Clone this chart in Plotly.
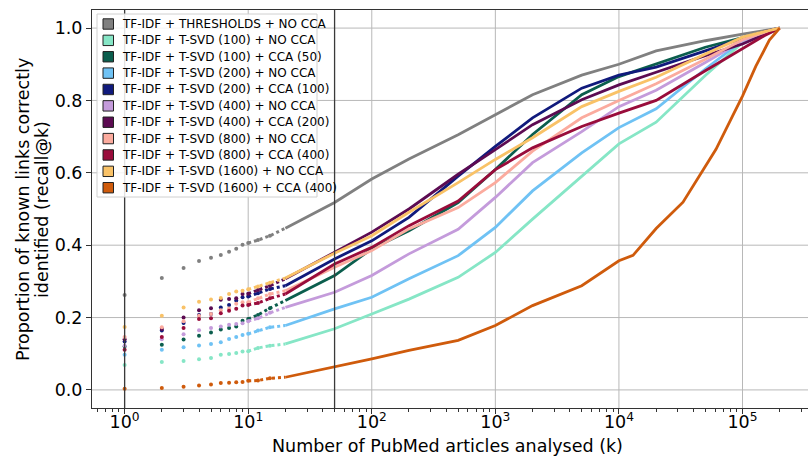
import plotly.graph_objects as go

# Number of PubMed articles analysed (k)
K = [1, 2, 3, 4, 5, 6, 7, 8, 9, 10, 12, 15, 20, 50, 100, 200, 500, 1000, 2000, 5000,
     10000, 20000, 50000, 100000, 150000, 200000]

NAMES = [
    "TF-IDF + THRESHOLDS + NO CCA",
    "TF-IDF + T-SVD (100) + NO CCA",
    "TF-IDF + T-SVD (100) + CCA (50)",
    "TF-IDF + T-SVD (200) + NO CCA",
    "TF-IDF + T-SVD (200) + CCA (100)",
    "TF-IDF + T-SVD (400) + NO CCA",
    "TF-IDF + T-SVD (400) + CCA (200)",
    "TF-IDF + T-SVD (800) + NO CCA",
    "TF-IDF + T-SVD (800) + CCA (400)",
    "TF-IDF + T-SVD (1600) + NO CCA",
    "TF-IDF + T-SVD (1600) + CCA (400)",
]

COLORS = ["#808080", "#86e6c6", "#0b5e4d", "#6fc2f4", "#101a7c", "#c49bdb",
          "#5c0b52", "#fbab9e", "#990c3b", "#f9c267", "#cf5b0c"]

thresholds = [0.262, 0.309, 0.337, 0.356, 0.365, 0.373, 0.382, 0.390, 0.401, 0.406, 0.414,
              0.426, 0.447, 0.518, 0.583, 0.638, 0.705, 0.760, 0.816, 0.870, 0.900, 0.937,
              0.965, 0.983, 0.992, 1.0]
svd100 = [0.069, 0.077, 0.080, 0.085, 0.088, 0.097, 0.099, 0.102, 0.106, 0.107, 0.116,
          0.122, 0.127, 0.169, 0.210, 0.251, 0.311, 0.380, 0.472, 0.591, 0.680, 0.740,
          0.869, 0.960, 0.985, 1.0]
svd100_cca50 = [0.120, 0.125, 0.139, 0.150, 0.159, 0.167, 0.171, 0.175, 0.191, 0.196, 0.207,
                0.226, 0.247, 0.316, 0.390, 0.440, 0.518, 0.609, 0.706, 0.816, 0.866, 0.901,
                0.947, 0.974, 0.990, 1.0]
svd200 = [0.097, 0.111, 0.118, 0.123, 0.127, 0.132, 0.141, 0.146, 0.152, 0.155, 0.164,
          0.173, 0.178, 0.224, 0.256, 0.307, 0.371, 0.449, 0.550, 0.655, 0.725, 0.777,
          0.887, 0.965, 0.987, 1.0]
svd200_cca100 = [0.134, 0.164, 0.185, 0.207, 0.210, 0.228, 0.235, 0.247, 0.256, 0.258, 0.267,
                 0.279, 0.288, 0.362, 0.412, 0.477, 0.591, 0.673, 0.752, 0.834, 0.870, 0.892,
                 0.937, 0.972, 0.990, 1.0]
svd400 = [0.122, 0.140, 0.154, 0.165, 0.171, 0.175, 0.180, 0.182, 0.184, 0.190, 0.198,
          0.213, 0.228, 0.270, 0.316, 0.376, 0.444, 0.532, 0.628, 0.714, 0.783, 0.828,
          0.905, 0.965, 0.988, 1.0]
svd400_cca200 = [0.140, 0.168, 0.200, 0.220, 0.226, 0.249, 0.251, 0.253, 0.265, 0.266, 0.276,
                 0.288, 0.307, 0.380, 0.436, 0.500, 0.596, 0.664, 0.733, 0.802, 0.843, 0.878,
                 0.924, 0.956, 0.983, 1.0]
svd800 = [0.146, 0.173, 0.190, 0.205, 0.210, 0.220, 0.225, 0.238, 0.242, 0.242, 0.253,
          0.265, 0.274, 0.339, 0.385, 0.445, 0.504, 0.573, 0.660, 0.752, 0.800, 0.846,
          0.914, 0.968, 0.988, 1.0]
svd800_cca400 = [0.111, 0.146, 0.171, 0.196, 0.198, 0.212, 0.219, 0.224, 0.233, 0.235, 0.240,
                 0.253, 0.265, 0.348, 0.394, 0.454, 0.522, 0.609, 0.669, 0.728, 0.765, 0.800,
                 0.882, 0.942, 0.979, 1.0]
svd1600 = [0.174, 0.205, 0.228, 0.244, 0.250, 0.254, 0.265, 0.272, 0.274, 0.278, 0.286,
           0.296, 0.309, 0.378, 0.426, 0.491, 0.573, 0.637, 0.697, 0.783, 0.825, 0.864,
           0.928, 0.975, 0.990, 1.0]

# the last curve bends sharply, so it was read at more points
K_CCA1600 = [1, 2, 3, 4, 5, 6, 7, 8, 9, 10, 12, 15, 20, 50, 100, 200, 500, 1000, 2000, 5000,
             10000, 13000, 20000, 33000, 45000, 61000, 83000, 100000, 128000, 165000, 200000]
svd1600_cca400 = [0.003, 0.005, 0.009, 0.012, 0.015, 0.019, 0.020, 0.021, 0.022, 0.025, 0.026,
                  0.032, 0.035, 0.063, 0.086, 0.109, 0.137, 0.178, 0.233, 0.288, 0.357, 0.372,
                  0.446, 0.519, 0.592, 0.665, 0.757, 0.812, 0.894, 0.967, 1.0]

SERIES = [(K, thresholds), (K, svd100), (K, svd100_cca50), (K, svd200), (K, svd200_cca100),
          (K, svd400), (K, svd400_cca200), (K, svd800), (K, svd800_cca400), (K, svd1600),
          (K_CCA1600, svd1600_cca400)]

X_TICKS = [1, 10, 100, 1000, 10000, 100000]
X_TICK_TEXT = ["10<sup>%d</sup>" % i for i in range(6)]
Y_TICKS = [0, 0.2, 0.4, 0.6, 0.8, 1.0]
Y_TICK_TEXT = ["0.0", "0.2", "0.4", "0.6", "0.8", "1.0"]

FONT = "DejaVu Sans"
W, H = 808, 457
ML, MR, MT, MB = 92, 0, 10, 49
PW, PH = W - ML - MR, H - MT - MB


def px(x):  # pixel -> paper x
    return (x - ML) / PW


def py(y):  # pixel -> paper y
    return (H - MB - y) / PH


fig = go.Figure()

for (ks, ys), name, col in zip(SERIES, NAMES, COLORS):
    lo_k = [k for k in ks if k <= 15]
    lo_y = ys[:len(lo_k)]
    mid_k = [k for k in ks if 10 <= k <= 20]
    mid_y = [y for k, y in zip(ks, ys) if 10 <= k <= 20]
    hi_k = [k for k in ks if k >= 20]
    hi_y = [y for k, y in zip(ks, ys) if k >= 20]
    fig.add_trace(go.Scatter(x=lo_k, y=lo_y, mode="markers", showlegend=False, name=name,
                             marker=dict(color=col, size=4, line=dict(width=0))))
    fig.add_trace(go.Scatter(x=mid_k, y=mid_y, mode="lines", showlegend=False, name=name,
                             line=dict(color=col, width=3, dash="dot")))
    fig.add_trace(go.Scatter(x=hi_k, y=hi_y, mode="lines", showlegend=False, name=name,
                             line=dict(color=col, width=2.8)))

shapes = []
# grid lines (matplotlib style)
for t in X_TICKS:
    shapes.append(dict(type="line", xref="x", yref="paper", x0=t, x1=t, y0=0, y1=1,
                       line=dict(color="#b8b8b8", width=1), layer="below"))
for t in Y_TICKS:
    shapes.append(dict(type="line", xref="paper", yref="y", x0=0, x1=1, y0=t, y1=t,
                       line=dict(color="#b8b8b8", width=1), layer="below"))
# reference lines at k=1 and k=50
for kv in (1, 50):
    shapes.append(dict(type="line", xref="x", yref="paper", x0=kv, x1=kv, y0=0, y1=1,
                       line=dict(color="#3a3a3a", width=1.3), layer="above"))

# hand-built legend box (matplotlib style)
LEG_L, LEG_R, LEG_T, LEG_B = 97, 317, 14, 197
shapes.append(dict(type="rect", xref="paper", yref="paper",
                   x0=px(LEG_L), x1=px(LEG_R), y0=py(LEG_B), y1=py(LEG_T),
                   fillcolor="rgba(255,255,255,0.85)", line=dict(color="#d0d0d0", width=1),
                   layer="above"))
annotations = []
ROW0, ROWSTEP = 24, 16.37
for i, (name, col) in enumerate(zip(NAMES, COLORS)):
    cy = ROW0 + i * ROWSTEP
    shapes.append(dict(type="rect", xref="paper", yref="paper",
                       x0=px(103), x1=px(113.5), y0=py(cy + 5.2), y1=py(cy - 5.2),
                       fillcolor=col, line=dict(color="#222222", width=1), layer="above"))
    annotations.append(dict(xref="paper", yref="paper", x=px(120), y=py(cy),
                            xanchor="left", yanchor="middle", showarrow=False, text=name,
                            font=dict(family=FONT, size=12, color="black")))

# axis titles
annotations.append(dict(xref="paper", yref="paper", x=px(447), y=py(446),
                        xanchor="center", yanchor="middle", showarrow=False,
                        text="Number of PubMed articles analysed (k)",
                        font=dict(family=FONT, size=17.5, color="black")))
for txt, xc in (("Proportion of known links correctly", 23), ("identified (recall@k)", 42)):
    annotations.append(dict(xref="paper", yref="paper", x=px(xc), y=py(210),
                            xanchor="center", yanchor="middle", showarrow=False,
                            textangle=-90, text=txt,
                            font=dict(family=FONT, size=17.5, color="black")))

minor_vals = [m * 10 ** e for e in range(-1, 6) for m in range(2, 10)]

fig.update_layout(
    template="none",
    width=W, height=H,
    margin=dict(l=ML, r=MR, t=MT, b=MB),
    paper_bgcolor="white", plot_bgcolor="white",
    font=dict(family=FONT, color="black"),
    showlegend=False,
    hovermode=False,
    shapes=shapes,
    annotations=annotations,
    xaxis=dict(type="log", range=[-0.264, 5.53],
               tickmode="array", tickvals=X_TICKS, ticktext=X_TICK_TEXT,
               showgrid=False,
               ticks="outside", ticklen=5, tickwidth=1, tickcolor="#333333",
               showline=True, linecolor="#333333", linewidth=1, mirror=True,
               zeroline=False, ticklabelstandoff=-7,
               minor=dict(tickmode="array", tickvals=minor_vals, ticks="outside",
                          ticklen=3, tickwidth=0.8, tickcolor="#333333", showgrid=False),
               tickfont=dict(family=FONT, size=17.5)),
    yaxis=dict(range=[-0.05, 1.05], tickmode="array",
               tickvals=Y_TICKS, ticktext=Y_TICK_TEXT,
               showgrid=False,
               ticks="outside", ticklen=5, tickwidth=1, tickcolor="#333333",
               showline=True, linecolor="#333333", linewidth=1, mirror=False,
               zeroline=False,
               tickfont=dict(family=FONT, size=17.5)),
)

fig.write_html("out.html", config={"displayModeBar": False},
               post_script="document.body.style.margin='0';document.body.style.overflow='hidden';")
